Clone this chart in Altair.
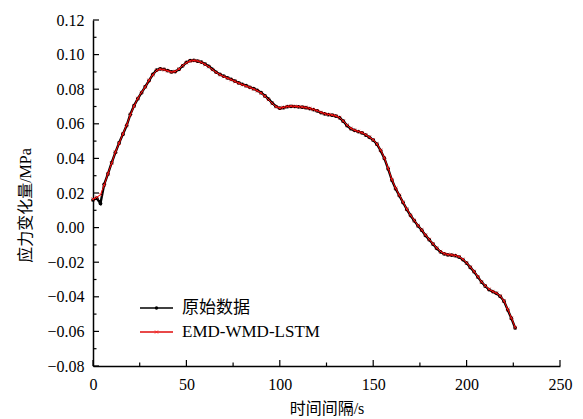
import altair as alt
import pandas as pd

# time grid (s)
t = list(range(0, 227, 2))

# original data (MPa)
orig = [
    0.0160, 0.0170, 0.0140, 0.0250, 0.0310, 0.0375, 0.0435, 0.0490, 0.0540, 0.0590,
    0.0655, 0.0705, 0.0745, 0.0780, 0.0815, 0.0850, 0.0885, 0.0910, 0.0918, 0.0915,
    0.0908, 0.0900, 0.0902, 0.0915, 0.0935, 0.0955, 0.0965, 0.0967, 0.0962, 0.0957,
    0.0945, 0.0932, 0.0915, 0.0898, 0.0885, 0.0875, 0.0866, 0.0857, 0.0847, 0.0837,
    0.0828, 0.0820, 0.0811, 0.0803, 0.0793, 0.0780, 0.0762, 0.0742, 0.0720, 0.0700,
    0.0690, 0.0693, 0.0699, 0.0701, 0.0700, 0.0698, 0.0696, 0.0693, 0.0688, 0.0682,
    0.0675, 0.0665, 0.0658, 0.0653, 0.0650, 0.0645, 0.0635, 0.0615, 0.0590, 0.0572,
    0.0562, 0.0555, 0.0548, 0.0535, 0.0522, 0.0506, 0.0482, 0.0445, 0.0400, 0.0340,
    0.0275, 0.0225, 0.0185, 0.0145, 0.0105, 0.0070, 0.0040, 0.0010, -0.0015, -0.0045,
    -0.0070, -0.0095, -0.0120, -0.0140, -0.0152, -0.0157, -0.0159, -0.0162, -0.0170, -0.0185,
    -0.0205, -0.0230, -0.0255, -0.0285, -0.0315, -0.0338, -0.0358, -0.0370, -0.0380, -0.0397,
    -0.0425, -0.0475, -0.0525, -0.0580,
]

# EMD-WMD-LSTM prediction (MPa)
pred = [
    0.0165, 0.0175, 0.0190, 0.0245, 0.0312, 0.0372, 0.0437, 0.0488, 0.0542, 0.0592,
    0.0652, 0.0703, 0.0747, 0.0782, 0.0813, 0.0852, 0.0883, 0.0908, 0.0916, 0.0913,
    0.0906, 0.0899, 0.0903, 0.0917, 0.0937, 0.0953, 0.0963, 0.0966, 0.0963, 0.0955,
    0.0943, 0.0930, 0.0913, 0.0897, 0.0884, 0.0873, 0.0864, 0.0855, 0.0845, 0.0835,
    0.0826, 0.0818, 0.0810, 0.0801, 0.0791, 0.0778, 0.0760, 0.0740, 0.0718, 0.0699,
    0.0691, 0.0695, 0.0700, 0.0702, 0.0701, 0.0699, 0.0697, 0.0694, 0.0689, 0.0683,
    0.0676, 0.0666, 0.0659, 0.0654, 0.0651, 0.0646, 0.0636, 0.0616, 0.0592, 0.0574,
    0.0563, 0.0556, 0.0549, 0.0537, 0.0523, 0.0508, 0.0484, 0.0448, 0.0403, 0.0343,
    0.0278, 0.0228, 0.0187, 0.0147, 0.0107, 0.0072, 0.0042, 0.0012, -0.0013, -0.0043,
    -0.0068, -0.0093, -0.0118, -0.0138, -0.0150, -0.0156, -0.0158, -0.0161, -0.0168, -0.0183,
    -0.0203, -0.0228, -0.0253, -0.0283, -0.0313, -0.0336, -0.0356, -0.0369, -0.0379, -0.0395,
    -0.0423, -0.0472, -0.0522, -0.0577,
]

x_major = [0, 50, 100, 150, 200, 250]
x_minor = [25, 75, 125, 175, 225]
y_major = [-0.08, -0.06, -0.04, -0.02, 0.0, 0.02, 0.04, 0.06, 0.08, 0.10, 0.12]
y_minor = [-0.07, -0.05, -0.03, -0.01, 0.01, 0.03, 0.05, 0.07, 0.09, 0.11]

legend_labels = ["原始数据", "EMD-WMD-LSTM"]

FONT = "Liberation Serif, Noto Sans CJK SC"
W, H = 467, 346

xs = alt.Scale(domain=[0, 250], nice=False, zero=False)
ys = alt.Scale(domain=[-0.08, 0.12], nice=False, zero=False)

df = pd.DataFrame({"t": t, "orig": orig, "pred": pred})

x_axis = alt.Axis(title="时间间隔/s", values=x_major, format="d", tickSize=0,
                  labelPadding=10, titlePadding=8, grid=False, labelOverlap=False,
                  labelFlush=False)
y_axis = alt.Axis(
    title="应力变化量/MPa", values=y_major, format=".2f", tickSize=0,
    labelPadding=9, grid=False, titleX=-60, titleY=185, labelOverlap=False,
    labelFlush=False,
)


def X(field):
    return alt.X(field, type="quantitative", scale=xs, axis=x_axis)


def Y(field):
    return alt.Y(field, type="quantitative", scale=ys, axis=y_axis)


black = alt.Chart(df).mark_line(
    color="black", strokeWidth=2.4,
    point=alt.OverlayMarkDef(shape="circle", size=14, filled=True, color="black"),
).encode(x=X("t"), y=Y("orig"))

xshape = "M-1,-1L1,1M-1,1L1,-1"
red = alt.Chart(df).mark_line(
    color="#ff0000", strokeWidth=1.0,
    point=alt.OverlayMarkDef(shape=xshape, size=10, filled=False, color="#ff2020",
                             strokeWidth=0.8),
).encode(x=X("t"), y=Y("pred"))

# inward ticks
ymaj = alt.Chart(pd.DataFrame({"v": y_major})).mark_rule(color="black", strokeWidth=1.2).encode(
    y=Y("v"), x=alt.value(0), x2=alt.value(6))
ymin = alt.Chart(pd.DataFrame({"v": y_minor})).mark_rule(color="black", strokeWidth=1.2).encode(
    y=Y("v"), x=alt.value(0), x2=alt.value(3.5))
xmaj = alt.Chart(pd.DataFrame({"v": x_major})).mark_rule(color="black", strokeWidth=1.2).encode(
    x=X("v"), y=alt.value(H), y2=alt.value(H - 6))
xmin = alt.Chart(pd.DataFrame({"v": x_minor})).mark_rule(color="black", strokeWidth=1.2).encode(
    x=X("v"), y=alt.value(H), y2=alt.value(H - 3.5))

# legend
leg1_y, leg2_y = 288, 312
l1_line = alt.Chart(pd.DataFrame({"l": [legend_labels[0]]})).mark_rule(color="black", strokeWidth=1.6).encode(
    x=alt.value(47), x2=alt.value(80), y=alt.value(leg1_y))
l1_pt = alt.Chart(pd.DataFrame({"l": [legend_labels[0]]})).mark_point(
    shape="circle", filled=True, color="black", size=12, opacity=1).encode(
    x=alt.value(63.5), y=alt.value(leg1_y))
l1_txt = alt.Chart(pd.DataFrame({"l": [legend_labels[0]]})).mark_text(
    align="left", baseline="middle", font=FONT, fontSize=17, color="black").encode(
    x=alt.value(89), y=alt.value(leg1_y), text="l:N")
l2_line = alt.Chart(pd.DataFrame({"l": [legend_labels[1]]})).mark_rule(color="#e84848", strokeWidth=2).encode(
    x=alt.value(47), x2=alt.value(80), y=alt.value(leg2_y))
l2_pt = alt.Chart(pd.DataFrame({"l": [legend_labels[1]]})).mark_point(
    shape=xshape, filled=False, color="#ff2020", size=10, strokeWidth=0.8, opacity=1).encode(
    x=alt.value(63.5), y=alt.value(leg2_y))
l2_txt = alt.Chart(pd.DataFrame({"l": [legend_labels[1]]})).mark_text(
    align="left", baseline="middle", font=FONT, fontSize=17, color="black").encode(
    x=alt.value(89), y=alt.value(leg2_y), text="l:N")

chart = alt.layer(
    black, red, ymaj, ymin, xmaj, xmin,
    l1_line, l1_pt, l1_txt, l2_line, l2_pt, l2_txt,
).properties(
    width=W, height=H,
    background="white",
    autosize=alt.AutoSizeParams(type="none"),
    padding={"left": 93, "top": 20, "right": 23, "bottom": 53},
).configure_view(stroke=None).configure_axis(
    labelFont=FONT, titleFont=FONT, labelFontSize=16, titleFontSize=16,
    labelColor="black", titleColor="black", titleFontWeight="normal",
    domainColor="black", domainWidth=1.5,
)

chart.save("out.html", embed_options={"renderer": "svg", "actions": False})
